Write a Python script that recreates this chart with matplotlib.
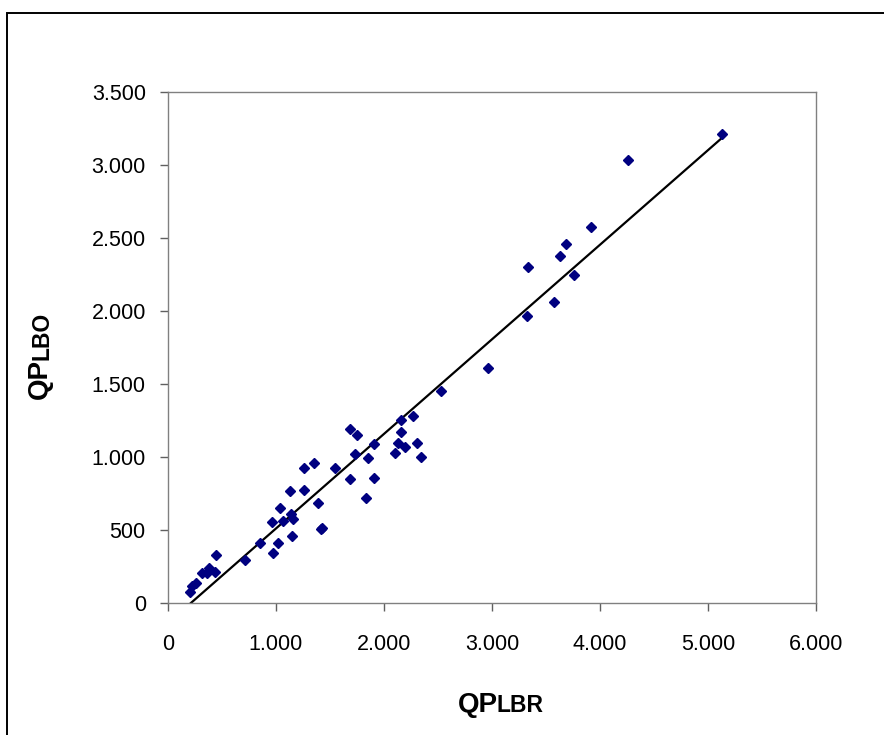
import numpy as np
import matplotlib
matplotlib.use("Agg")
import matplotlib.pyplot as plt
from matplotlib.ticker import FuncFormatter, MultipleLocator
from matplotlib.patches import Rectangle

plt.rcParams["font.family"] = ["Liberation Sans", "DejaVu Sans"]

# QPLBR (x) vs QPLBO (y)
qp_lbr = [204, 225, 256, 315, 358, 380, 435, 444, 713, 852,
          975, 1016, 963, 1037, 1062, 1130, 1136, 1160, 1148, 1259,
          1352, 1256, 1386, 1414, 1429, 1546, 1688, 1747, 1731, 1688,
          1852, 1907, 1907, 1831, 2155, 2266, 2155, 2132, 2197, 2102,
          2306, 2340, 2525, 2966, 3324, 3336, 3574, 3630, 3682, 3756,
          3919, 4259, 5130]
qp_lbo = [77, 118, 135, 205, 205, 242, 212, 329, 295, 413,
          342, 413, 553, 649, 562, 767, 608, 575, 461, 927,
          961, 776, 687, 507, 512, 927, 1192, 1153, 1021, 849,
          991, 1087, 856, 721, 1255, 1281, 1169, 1096, 1071, 1025,
          1098, 1000, 1454, 1608, 1968, 2303, 2064, 2377, 2457, 2247,
          2577, 3034, 3212]

x = np.array(qp_lbr, dtype=float)
y = np.array(qp_lbo, dtype=float)

# linear trendline
slope, intercept = np.polyfit(x, y, 1)
x_line = np.array([x.min(), x.max()])
y_line = slope * x_line + intercept

fig = plt.figure(figsize=(8.84, 7.35), dpi=100)
ax = fig.add_axes([168 / 884, 1 - 603 / 735, (816 - 168) / 884, (603 - 92) / 735])

ax.plot(x_line, y_line, color="black", linewidth=1.6, zorder=2)
ax.plot(x, y, linestyle="none", marker="D", markersize=4.6,
        color="#000080", zorder=3)

ax.set_xlim(0, 6000)
ax.set_ylim(0, 3500)
ax.xaxis.set_major_locator(MultipleLocator(1000))
ax.yaxis.set_major_locator(MultipleLocator(500))

fmt = FuncFormatter(lambda v, p: f"{int(v):,}".replace(",", "."))
ax.xaxis.set_major_formatter(fmt)
ax.yaxis.set_major_formatter(fmt)

for s in ax.spines.values():
    s.set_color("#808080")
    s.set_linewidth(1.0)
ax.tick_params(axis="both", direction="out", length=6, width=1.0,
               color="#606060", labelsize=15.5, labelcolor="black")
ax.tick_params(axis="x", pad=16)
ax.tick_params(axis="y", pad=10)

# axis titles with smaller trailing letters
fig.text(458 / 884, 1 - 712 / 735, "QP", fontsize=20, fontweight="bold",
         ha="left", va="baseline")
fig.text(497 / 884, 1 - 712 / 735, "LBR", fontsize=16.5, fontweight="bold",
         ha="left", va="baseline")
fig.text(53 / 884, 1 - 399 / 735, "QP", fontsize=20, fontweight="bold",
         rotation=90, ha="left", va="bottom", rotation_mode="anchor")
fig.text(53 / 884, 1 - 360 / 735, "LBO", fontsize=16.5, fontweight="bold",
         rotation=90, ha="left", va="bottom", rotation_mode="anchor")

# outer chart border
fig.patches.append(Rectangle((7.5 / 884, -0.1), 1.2, 1 - 12.5 / 735 + 0.1,
                             transform=fig.transFigure, fill=False,
                             edgecolor="black", linewidth=1.4))

fig.savefig("out.png", dpi=100)
